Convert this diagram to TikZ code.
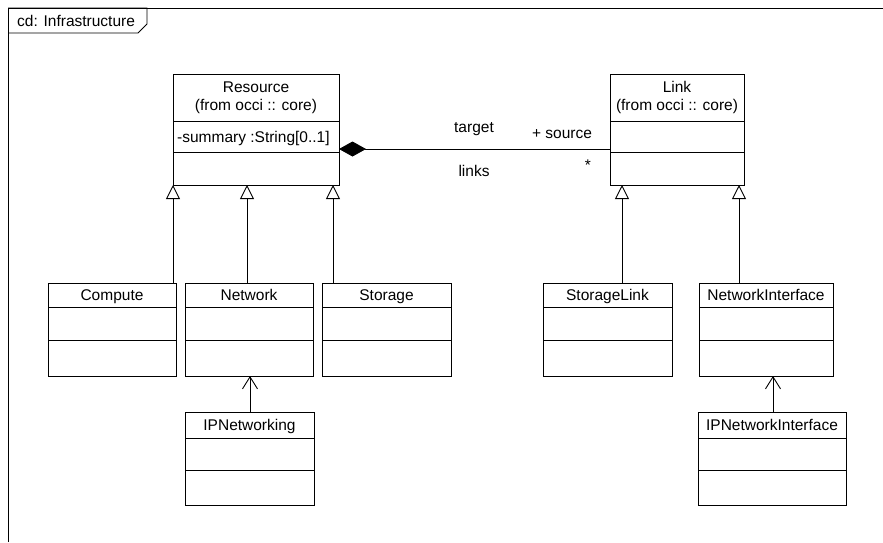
\documentclass[tikz,border=0pt]{standalone}
\usepackage{fontspec}
\setmainfont{Liberation Sans}
\usetikzlibrary{arrows.meta}
\tikzset{
  cls/.style={draw, line width=0.9pt, inner sep=0pt, outer sep=0pt, rectangle},
  clsline/.style={line width=0.9pt},
  clstitle/.style={inner sep=0pt, anchor=base, font=\fontsize{15.5}{18.5}\selectfont},
  attr/.style={inner sep=0pt, anchor=base west, font=\fontsize{15.5}{18.5}\selectfont},
  lbl/.style={inner sep=0pt, anchor=base, font=\fontsize{15.5}{18.5}\selectfont},
  gen/.style={line width=0.9pt, -{Triangle[open, length=14pt, width=14pt, fill=white]}},
  dep/.style={line width=0.9pt, -{Straight Barb[length=12pt, width=15pt]}},
  compo/.style={line width=0.9pt, -{Diamond[length=27pt, width=15pt, fill=black]}},
  frame/.style={line width=0.9pt}
}
% name, left, right, top, sep1, sep2, bottom, title
\newcommand\umlclass[8]{%
  \node[cls, minimum width={(#3-#2)*1pt}, minimum height={(#7-#4)*1pt}] (#1) at ({(#2+#3)/2},{(#4+#7)/2}) {};
  \draw[clsline] (#2,#5) -- (#3,#5) (#2,#6) -- (#3,#6);
  \node[clstitle] (#1-t) at ({(#2+#3)/2},{(#4+#5)/2+5.5}) {#8};
}
% name, left, right, top, sep1, sep2, bottom, title, subtitle
\newcommand\umlclasstwo[9]{%
  \node[cls, minimum width={(#3-#2)*1pt}, minimum height={(#7-#4)*1pt}] (#1) at ({(#2+#3)/2},{(#4+#7)/2}) {};
  \draw[clsline] (#2,#5) -- (#3,#5) (#2,#6) -- (#3,#6);
  \node[clstitle] (#1-t) at ({(#2+#3)/2},{(#4+#5)/2-5}) {#8};
  \node[clstitle] (#1-s) at ({(#2+#3)/2},{(#4+#5)/2+13}) {#9};
}
\begin{document}
\begin{tikzpicture}[x=1pt, y=-1pt]
\useasboundingbox (0,0) rectangle (883,542);
% frame
\draw[frame] (8,542) -- (8,8) -- (883,8);
\draw[frame] (8,8) -- (147,8) -- (147,24) -- (138,33) -- (8,33);
\node[lbl, anchor=base west] (frm) at (17,26.5) {cd: Infrastructure};
% classes
\umlclasstwo{res}{173}{339}{74}{121}{152}{185}{Resource}{(from occi :: core)}
\node[attr] (resattr) at (177,142) {-summary :String[0..1]};
\umlclasstwo{link}{610}{744}{74}{121}{152}{185}{Link}{(from occi :: core)}
\umlclass{comp}{48}{176}{283}{307}{340}{376}{Compute}
\umlclass{net}{185}{313}{283}{307}{340}{376}{Network}
\umlclass{stor}{322}{451}{283}{307}{340}{376}{Storage}
\umlclass{slink}{543}{672}{283}{307}{340}{376}{StorageLink}
\umlclass{nif}{699}{833}{283}{307}{340}{376}{NetworkInterface}
\umlclass{ipn}{185}{314}{412}{438}{470}{505}{IPNetworking}
\umlclass{ipnif}{698}{846}{412}{438}{470}{505}{IPNetworkInterface}
% generalizations
\draw[gen] (173,0 |- comp.north) -- (173,0 |- res.south);
\draw[gen] (247,0 |- net.north) -- (247,0 |- res.south);
\draw[gen] (333,0 |- stor.north) -- (333,0 |- res.south);
\draw[gen] (622,0 |- slink.north) -- (622,0 |- link.south);
\draw[gen] (739,0 |- nif.north) -- (739,0 |- link.south);
% dependencies
\draw[dep] (250,0 |- ipn.north) -- (250,0 |- net.south);
\draw[dep] (773,0 |- ipnif.north) -- (773,0 |- nif.south);
% composition
\draw[compo] (link.west |- 0,149) -- (res.east |- 0,149);
\node[lbl] (tgt) at (474,132.5) {target};
\node[lbl] (src) at (562,138.5) {+ source};
\node[lbl] (lnks) at (474,176.5) {links};
\node[lbl, anchor=center] (mult) at (588,165) {*};
\end{tikzpicture}
\end{document}
